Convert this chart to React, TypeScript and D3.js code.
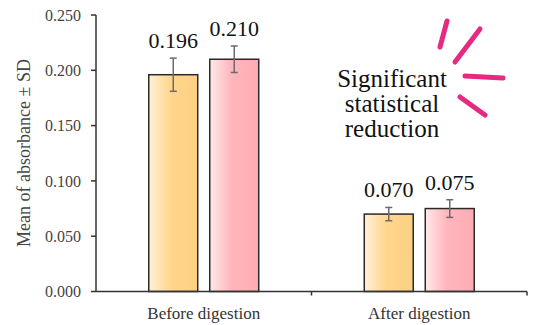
import React from "react";
import { scaleBand, scaleLinear } from "d3";

const categories = ["Before digestion", "After digestion"];
const seriesNames = ["sampleA", "sampleB"];
const meanA = [0.196, 0.07];
const meanB = [0.21, 0.075];
const sdA = [0.015, 0.006];
const sdB = [0.012, 0.008];
const yTicks = [0, 0.05, 0.1, 0.15, 0.2, 0.25];
const noteLines = ["Significant", "statistical", "reduction"];

const width = 533;
const height = 325;
const margin = { top: 15, right: 6, bottom: 33.5, left: 96 };
const font = "Liberation Serif";

const fills = [
  { id: "gradA", light: "#fff0d8", full: "#ffd68d", dark: "#fdd083" },
  { id: "gradB", light: "#ffe8ea", full: "#ffb5bc", dark: "#ffacb4" },
];

// pink "burst" strokes next to the note, relative to the note centre
const burst = [
  [55, -66, 48, -40],
  [88, -58, 63, -25],
  [73, -11, 111, -9],
  [68, 10, 93, 28],
];

const App = () => {
  const innerW = width - margin.left - margin.right;
  const innerH = height - margin.top - margin.bottom;

  const x = scaleBand().domain(categories).range([0, innerW]);
  const xSub = scaleBand()
    .domain(seriesNames)
    .range([0, x.bandwidth()])
    .paddingInner(0.197)
    .paddingOuter(0.865);
  const y = scaleLinear().domain([0, 0.25]).range([innerH, 0]);

  const rows = categories.map((c, i) => ({
    c,
    vals: [
      { s: seriesNames[0], v: meanA[i], e: sdA[i], f: 0 },
      { s: seriesNames[1], v: meanB[i], e: sdB[i], f: 1 },
    ],
  }));

  const noteX = 392;
  const noteY = 87;

  return (
    <svg
      width={width}
      height={height}
      style={{ position: "absolute", left: 0, top: 0, background: "#fff", fontFamily: font }}
    >
      <defs>
        {fills.map((g) => (
          <linearGradient id={g.id} key={g.id} x1="0" x2="1" y1="0" y2="0">
            <stop offset="0%" stopColor={g.light} />
            <stop offset="45%" stopColor={g.full} />
            <stop offset="100%" stopColor={g.dark} />
          </linearGradient>
        ))}
      </defs>
      <g transform={`translate(${margin.left}, ${margin.top})`}>
        {/* bars */}
        {rows.map((r) =>
          r.vals.map((d) => {
            const bx = x(r.c)! + xSub(d.s)!;
            const cx = bx + xSub.bandwidth() / 2;
            return (
              <g key={r.c + d.s}>
                <rect
                  x={bx}
                  y={y(d.v)}
                  width={xSub.bandwidth()}
                  height={innerH - y(d.v)}
                  fill={`url(#${fills[d.f].id})`}
                  stroke="#2a2a2a"
                  strokeWidth={1.5}
                />
                <line x1={cx} x2={cx} y1={y(d.v - d.e)} y2={y(d.v + d.e)} stroke="#6b6b6b" strokeWidth={1.5} />
                <line x1={cx - 3.5} x2={cx + 3.5} y1={y(d.v - d.e)} y2={y(d.v - d.e)} stroke="#6b6b6b" strokeWidth={1.5} />
                <line x1={cx - 3.5} x2={cx + 3.5} y1={y(d.v + d.e)} y2={y(d.v + d.e)} stroke="#6b6b6b" strokeWidth={1.5} />
                <text
                  x={cx}
                  y={y(d.v + d.e) - 10}
                  textAnchor="middle"
                  style={{ fontFamily: font, fontSize: 22 }}
                  fill="#111"
                >
                  {d.v.toFixed(3)}
                </text>
              </g>
            );
          })
        )}

        {/* y axis */}
        <line x1={0} x2={0} y1={0} y2={innerH} stroke="#333" strokeWidth={1.5} />
        {yTicks.map((t) => (
          <g key={t} transform={`translate(0, ${y(t)})`}>
            <line x1={-5} x2={0} stroke="#333" strokeWidth={1.5} />
            <text
              x={-15}
              dy="0.35em"
              textAnchor="end"
              style={{ fontFamily: font, fontSize: 16 }}
              fill="#444"
            >
              {t.toFixed(3)}
            </text>
          </g>
        ))}

        {/* x axis */}
        <line x1={0} x2={innerW} y1={innerH} y2={innerH} stroke="#333" strokeWidth={1.5} />
        {categories.map((c) => (
          <g key={c}>
            <line
              x1={x(c)! + x.bandwidth()}
              x2={x(c)! + x.bandwidth()}
              y1={innerH}
              y2={innerH + 4}
              stroke="#333"
              strokeWidth={1.5}
            />
            <text
              x={x(c)! + x.bandwidth() / 2}
              y={innerH + 27}
              textAnchor="middle"
              style={{ fontFamily: font, fontSize: 17 }}
              fill="#333"
            >
              {c}
            </text>
          </g>
        ))}
      </g>

      <text
        transform={`translate(30, 153) rotate(-90)`}
        textAnchor="middle"
        style={{ fontFamily: font, fontSize: 18 }}
        fill="#444"
      >
        Mean of absorbance ± SD
      </text>

      {noteLines.map((l, i) => (
        <text
          key={l}
          x={noteX}
          y={noteY + i * 25}
          textAnchor="middle"
          style={{ fontFamily: font, fontSize: 25 }}
          fill="#111"
        >
          {l}
        </text>
      ))}
      {burst.map((b, i) => (
        <line
          key={i}
          x1={noteX + b[0]}
          y1={noteY + b[1]}
          x2={noteX + b[2]}
          y2={noteY + b[3]}
          stroke="#e52a82"
          strokeWidth={5}
          strokeLinecap="round"
        />
      ))}
    </svg>
  );
};

export default App;
